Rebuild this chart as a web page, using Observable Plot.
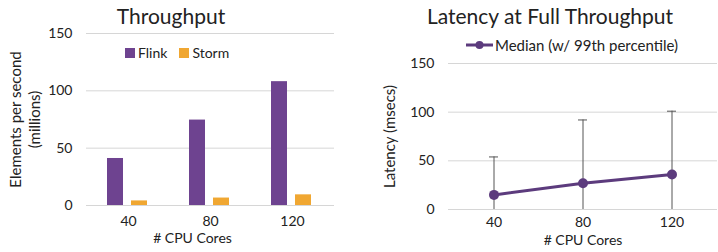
<!DOCTYPE html>
<html>
<head>
<meta charset="utf-8">
<script src="https://cdn.jsdelivr.net/npm/d3@7"></script>
<script src="https://cdn.jsdelivr.net/npm/@observablehq/plot@0.6"></script>
<style>
  html, body { margin: 0; padding: 0; background: #fff; }
  body { width: 718px; height: 252px; overflow: hidden; font-family: Lato, "Open Sans", sans-serif; color: #222; }
  .panel { position: absolute; top: 0; width: 359px; height: 252px; }
  .title { position: absolute; top: 3px; font-size: 21px; white-space: nowrap; transform: translateX(-50%); }
  .legend { position: absolute; font-size: 14px; white-space: nowrap; display: flex; align-items: center; }
  .sw { display: inline-block; width: 10px; height: 10px; margin-right: 3px; }
  svg { display: block; }
</style>
</head>
<body>
<div id="left" class="panel" style="left:0">
  <div class="title" style="left:171px">Throughput</div>
  <div class="legend" style="left:125px; top:44px">
    <span class="sw" style="background:#6e4390"></span><span>Flink</span>
    <span class="sw" style="background:#f0a732; margin-left:12px"></span><span>Storm</span>
  </div>
</div>
<div id="right" class="panel" style="left:359px">
  <div class="title" style="left:191px">Latency at Full Throughput</div>
  <div class="legend" style="left:107px; top:36px; font-size:15px">
    <svg width="27" height="10" style="margin-right:2px"><line x1="0" x2="27" y1="5" y2="5" stroke="#5c3b7d" stroke-width="3"/><circle cx="13.5" cy="5" r="4" fill="#5c3b7d"/></svg>
    <span>Median (w/ 99th percentile)</span>
  </div>
</div>
<script>
const cores = ["40", "80", "120"];
const flink = [41, 74.5, 108];
const storm = [4, 6.5, 9.3];
const latencyMedian = [15, 27, 36];
const latencyP99 = [54, 92, 101];
const yTicks = [0, 50, 100, 150];

const thr = cores.map((c, i) => ({cores: c, flink: flink[i], storm: storm[i]}));
const lat = cores.map((c, i) => ({cores: c, median: latencyMedian[i], p99: latencyP99[i]}));

const font = "Lato, 'Open Sans', sans-serif";

const left = Plot.plot({
  width: 359, height: 252,
  marginLeft: 86, marginRight: 25, marginTop: 33, marginBottom: 47,
  style: {fontFamily: font, fontSize: "14px", color: "#222", background: "transparent", overflow: "visible"},
  x: {domain: cores, padding: 0, label: null},
  y: {domain: [0, 150], label: null},
  marks: [
    Plot.gridY(yTicks, {stroke: "#d6d6d6", strokeOpacity: 1}),
    Plot.axisY(yTicks, {tickSize: 0, tickPadding: 14, fontSize: 14, label: null}),
    Plot.axisX({tickSize: 0, tickPadding: 11, fontSize: 14, label: null}),
    Plot.barY(thr, {x: "cores", y: "flink", fill: "#6e4390", insetLeft: 20, insetRight: 46}),
    Plot.barY(thr, {x: "cores", y: "storm", fill: "#f0a732", insetLeft: 44, insetRight: 22}),
    Plot.text(["# CPU Cores"], {frameAnchor: "bottom", dy: 37, fontSize: 14, dx: -18, fill: "#222"}),
    Plot.text(["Elements per second\n(millions)"], {frameAnchor: "left", textAnchor: "middle", rotate: -90, dx: -62, fontSize: 15, lineHeight: 1.25, fill: "#222"})
  ]
});
document.getElementById("left").prepend(left);

const right = Plot.plot({
  width: 359, height: 252,
  marginLeft: 89, marginRight: 1, marginTop: 63, marginBottom: 43,
  style: {fontFamily: font, fontSize: "14px", color: "#222", background: "transparent", overflow: "visible"},
  x: {domain: cores, padding: 0, label: null},
  y: {domain: [0, 150], label: null},
  marks: [
    Plot.gridY(yTicks, {stroke: "#d6d6d6", strokeOpacity: 1}),
    Plot.axisY(yTicks, {tickSize: 0, tickPadding: 14, fontSize: 14, label: null}),
    Plot.axisX({tickSize: 0, tickPadding: 8, fontSize: 14, label: null}),
    Plot.ruleX(lat, {x: "cores", y1: 0, y2: "p99", stroke: "#555", strokeWidth: 1}),
    Plot.tickY(lat, {x: "cores", y: "p99", stroke: "#555", strokeWidth: 1, insetLeft: 40, insetRight: 40}),
    Plot.line(lat, {x: "cores", y: "median", stroke: "#5c3b7d", strokeWidth: 3}),
    Plot.dot(lat, {x: "cores", y: "median", fill: "#5c3b7d", r: 5}),
    Plot.text(["# CPU Cores"], {frameAnchor: "bottom", dy: 35.5, fontSize: 14, fill: "#222"}),
    Plot.text(["Latency (msecs)"], {frameAnchor: "left", textAnchor: "middle", rotate: -90, dx: -58, fontSize: 15, fill: "#222"})
  ]
});
document.getElementById("right").prepend(right);
</script>
</body>
</html>
